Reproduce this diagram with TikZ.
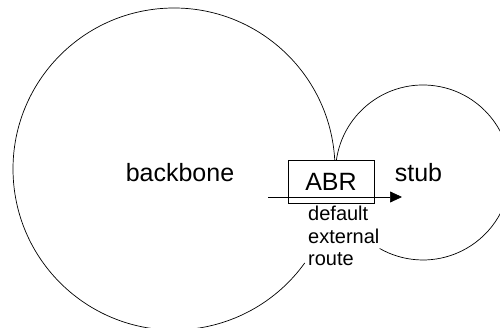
\documentclass[tikz,border=0pt]{standalone}
\usepackage{fontspec}
\setmainfont{Liberation Sans}
\usetikzlibrary{arrows.meta, positioning}

\begin{document}
\begin{tikzpicture}[
x=1pt, y=1pt,
area/.style={draw, line width=0.7pt},
box/.style={rectangle, draw, line width=0.7pt, minimum width=86pt, minimum height=43pt, inner sep=0pt},
arrow/.style={-{Triangle[length=12pt, width=11pt]}, line width=0.7pt},
big/.style={font=\fontsize{25}{30}\selectfont},
small/.style={font=\fontsize{20}{22.5}\selectfont, align=left, inner sep=0pt}
]
\useasboundingbox (0,0) rectangle (500,328);

% area centres
\coordinate (bbcentre) at (174,159);
\coordinate (stubcentre) at (423,155.5);

% areas
\draw[area] ([shift={(3.2:161)}]bbcentre) arc[start angle=3.2, end angle=324.3, radius=161];
\draw[area] ([shift={(171.8:87.5)}]stubcentre) arc[start angle=171.8, end angle=-119.7, radius=87.5];

\node[big, anchor=base] (backbone) at (180,146) {backbone};
\node[big, anchor=base] (stub) at (418.5,146) {stub};

\node[box, big] (abr) at (331,146.5) {ABR};

\coordinate (routefrom) at (268,131);
\coordinate (routeto) at (402,131);
\draw[arrow] (routefrom) -- (routeto);

\node[small, anchor=north west] (route) at (308,122) {default\\external\\route};

\end{tikzpicture}
\end{document}
